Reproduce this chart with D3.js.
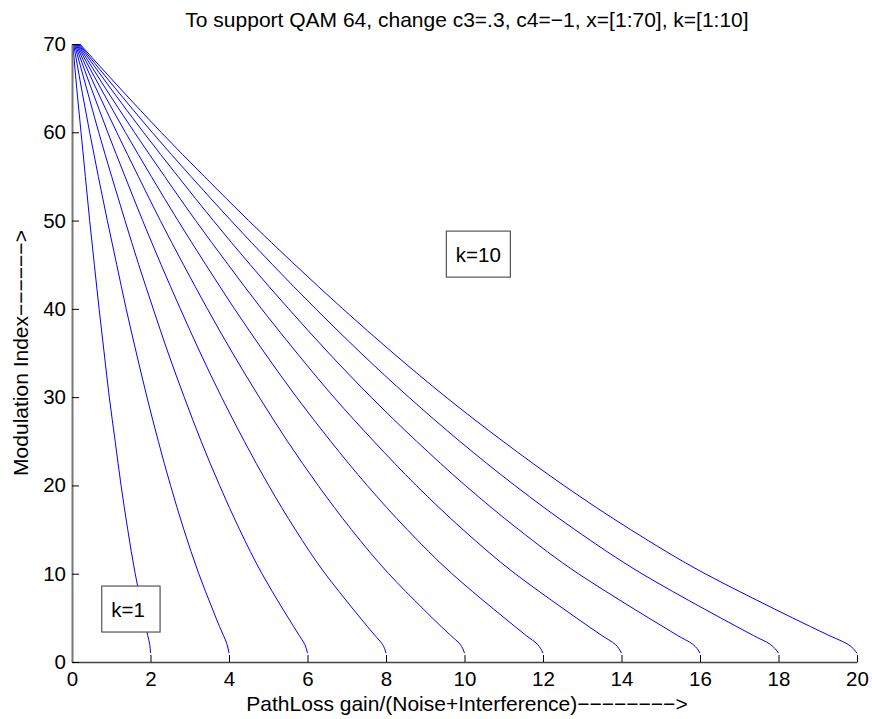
<!DOCTYPE html>
<html>
<head>
<meta charset="utf-8">
<script src="https://cdn.jsdelivr.net/npm/d3@7"></script>
<style>
  html, body { margin: 0; padding: 0; background: #fff; }
  svg { display: block; font-family: "Liberation Sans", Arial, sans-serif; }
  .tick text { font-size: 20.5px; fill: #000; }
  .tick line { stroke: #000; }
  .note text { white-space: pre; }
</style>
</head>
<body>
<svg id="chart" width="872" height="719"></svg>
<script>
// ── Data ──
var modIndex = [1, 2, 3, 4, 6, 8, 10, 15, 20, 25, 30, 35, 40, 45, 50, 55, 60, 65, 70];
// PathLoss gain/(Noise+Interference) for k = 1..10, same order as modIndex
var gainK1  = [2.00, 1.98, 1.93, 1.88, 1.79, 1.70, 1.61, 1.42, 1.25, 1.10, 0.95, 0.82, 0.69, 0.57, 0.45, 0.34, 0.23, 0.12, 0.02];
var gainK2  = [4.00, 3.95, 3.86, 3.76, 3.58, 3.40, 3.23, 2.85, 2.51, 2.20, 1.91, 1.64, 1.38, 1.14, 0.90, 0.67, 0.45, 0.24, 0.04];
var gainK3  = [6.00, 5.93, 5.79, 5.65, 5.37, 5.10, 4.84, 4.27, 3.76, 3.29, 2.86, 2.45, 2.07, 1.70, 1.35, 1.01, 0.68, 0.37, 0.06];
var gainK4  = [8.00, 7.91, 7.72, 7.53, 7.16, 6.80, 6.45, 5.69, 5.01, 4.39, 3.81, 3.27, 2.76, 2.27, 1.80, 1.35, 0.91, 0.49, 0.08];
var gainK5  = [10.00, 9.89, 9.65, 9.41, 8.95, 8.50, 8.07, 7.12, 6.27, 5.49, 4.77, 4.09, 3.45, 2.84, 2.25, 1.69, 1.14, 0.61, 0.10];
var gainK6  = [12.00, 11.86, 11.57, 11.29, 10.74, 10.20, 9.68, 8.54, 7.52, 6.59, 5.72, 4.91, 4.14, 3.41, 2.70, 2.02, 1.36, 0.73, 0.12];
var gainK7  = [14.00, 13.84, 13.50, 13.17, 12.53, 11.90, 11.29, 9.96, 8.77, 7.69, 6.67, 5.73, 4.83, 3.98, 3.15, 2.36, 1.59, 0.85, 0.14];
var gainK8  = [16.00, 15.82, 15.43, 15.06, 14.32, 13.60, 12.90, 11.38, 10.02, 8.78, 7.62, 6.54, 5.52, 4.54, 3.60, 2.70, 1.82, 0.98, 0.16];
var gainK9  = [18.00, 17.79, 17.36, 16.94, 16.11, 15.30, 14.52, 12.81, 11.28, 9.88, 8.58, 7.36, 6.21, 5.11, 4.05, 3.03, 2.04, 1.10, 0.18];
var gainK10 = [20.00, 19.77, 19.29, 18.82, 17.90, 17.00, 16.13, 14.23, 12.53, 10.98, 9.53, 8.18, 6.90, 5.68, 4.50, 3.37, 2.27, 1.22, 0.20];
var gainSeries = [gainK1, gainK2, gainK3, gainK4, gainK5, gainK6, gainK7, gainK8, gainK9, gainK10];

var xTicks = [0, 2, 4, 6, 8, 10, 12, 14, 16, 18, 20];
var yTicks = [0, 10, 20, 30, 40, 50, 60, 70];
var notes = [{ text: 'k=1 ', x: 1, y: 6 }, { text: 'k=10', x: 9.78, y: 46.2 }];

var titleText = 'To support QAM 64, change c3=.3, c4=\u22121, x=[1:70], k=[1:10]';
var xLabel = 'PathLoss gain/(Noise+Interference)\u2212\u2212\u2212\u2212\u2212\u2212\u2212\u2212>';
var yLabel = 'Modulation Index\u2212\u2212\u2212\u2212\u2212\u2212>';

(function () {
  var svg = d3.select('#chart');
  var left = 72, right = 857, top = 44, bottom = 662;

  var x = d3.scaleLinear().domain([0, 20]).range([left, right]);
  var y = d3.scaleLinear().domain([0, 70]).range([bottom, top]);

  // ── Curves ──
  var line = d3.line()
    .x(function (d) { return x(d[0]); })
    .y(function (d) { return y(d[1]); })
    .curve(d3.curveMonotoneY);

  svg.append('g').selectAll('path')
    .data(gainSeries)
    .join('path')
    .attr('fill', 'none')
    .attr('stroke', '#0000ff')
    .attr('stroke-width', 1)
    .attr('d', function (s) {
      return line(s.map(function (g, i) { return [g, modIndex[i]]; }));
    });

  // ── Axes (ticks point inward, no box) ──
  var gx = svg.append('g')
    .attr('transform', 'translate(0,' + bottom + ')')
    .call(d3.axisBottom(x).tickValues(xTicks).tickSizeInner(-7).tickSizeOuter(0).tickPadding(9));
  gx.select('.domain').attr('stroke', '#444').attr('stroke-width', 1.6);
  gx.selectAll('.tick text').attr('dy', '0.71em');

  var gy = svg.append('g')
    .attr('transform', 'translate(' + left + ',0)')
    .call(d3.axisLeft(y).tickValues(yTicks).tickSizeInner(-7).tickSizeOuter(0).tickPadding(6));
  gy.select('.domain').attr('stroke', '#777').attr('stroke-width', 2);

  // ── Titles ──
  svg.append('text')
    .attr('x', 467).attr('y', 26.5)
    .attr('text-anchor', 'middle').attr('font-size', '21px')
    .text(titleText);

  svg.append('text')
    .attr('x', 467).attr('y', 711)
    .attr('text-anchor', 'middle').attr('font-size', '21px')
    .text(xLabel);

  svg.append('text')
    .attr('transform', 'translate(28,' + ((top + bottom) / 2) + ') rotate(-90)')
    .attr('text-anchor', 'middle').attr('font-size', '21px')
    .text(yLabel);

  // ── Boxed notes ──
  notes.forEach(function (n) {
    var g = svg.append('g').attr('class', 'note');
    var t = g.append('text')
      .attr('x', x(n.x)).attr('y', y(n.y))
      .attr('font-size', '20.5px')
      .text(n.text);
    var bb = t.node().getBBox();
    var shift = y(n.y) - (bb.y + bb.height / 2);
    t.attr('y', y(n.y) + shift);
    bb = t.node().getBBox();
    g.insert('rect', 'text')
      .attr('x', bb.x - 9.5).attr('y', bb.y - 11.5)
      .attr('width', bb.width + 19).attr('height', bb.height + 23)
      .attr('fill', '#fff').attr('stroke', '#555').attr('stroke-width', 1.2);
  });
})();
</script>
</body>
</html>
